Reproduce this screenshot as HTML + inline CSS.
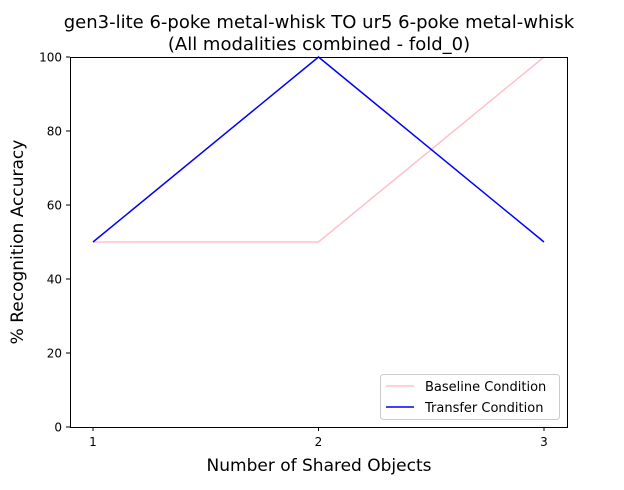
<!DOCTYPE html>
<html><head><meta charset="utf-8"><style>
body{margin:0;background:#fff;}
svg text{font-family:"DejaVu Sans","Liberation Sans",sans-serif;}
</style></head><body>
<svg id="chart" width="624" height="485" xmlns="http://www.w3.org/2000/svg">
<text x="319" y="28" font-size="18" text-anchor="middle">gen3-lite 6-poke metal-whisk TO ur5 6-poke metal-whisk</text>
<text x="319" y="50" font-size="18" text-anchor="middle">(All modalities combined - fold_0)</text>
<g id="xt"></g><g id="yt"></g><g id="lines"></g>
<rect x="70.5" y="57.5" width="497" height="370" fill="none" stroke="#000" stroke-width="1"/>
<text x="319" y="471" font-size="17" text-anchor="middle">Number of Shared Objects</text>
<text transform="translate(23,242) rotate(-90)" font-size="17" text-anchor="middle">% Recognition Accuracy</text>
<g>
<rect x="380.5" y="374.5" width="179" height="45" rx="3" fill="#fff" stroke="#ccc"/>
<line x1="386" y1="386" x2="414" y2="386" stroke="pink" stroke-width="1.5"/>
<text x="425" y="391" font-size="13">Baseline Condition</text>
<line x1="386" y1="407" x2="414" y2="407" stroke="blue" stroke-width="1.5"/>
<text x="425" y="412" font-size="13">Transfer Condition</text>
</g>
</svg>
<script>
const categories=[1,2,3];
const baseline=[50,50,100];
const transfer=[50,100,50];
const yTicks=[0,20,40,60,80,100];
const NS='http://www.w3.org/2000/svg';
const xs=v=>93+(v-1)*225.5;
const ys=v=>427-v*3.7;
function mk(t,a,p){const e=document.createElementNS(NS,t);for(const k in a)e.setAttribute(k,a[k]);p.appendChild(e);return e;}
const xt=document.getElementById('xt'),yt=document.getElementById('yt'),lg=document.getElementById('lines');
categories.forEach(c=>{
 const l=mk('line',{x1:xs(c),x2:xs(c),y1:427,y2:431,stroke:'#000'},xt);
 
 
 const t=mk('text',{x:xs(c),y:446,'font-size':12,'text-anchor':'middle'},xt);t.textContent=c;
 
 
});
yTicks.forEach(v=>{
 const l=mk('line',{x1:66,x2:70,y1:ys(v),y2:ys(v),stroke:'#000'},yt);
 
 
 const t=mk('text',{x:62,y:ys(v)+4.5,'font-size':12,'text-anchor':'end'},yt);t.textContent=v;
 
 
});
const p1=mk('polyline',{points:categories.map((c,i)=>xs(c)+','+ys(baseline[i])).join(' '),fill:'none',stroke:'pink','stroke-width':1.5},lg);


const p2=mk('polyline',{points:categories.map((c,i)=>xs(c)+','+ys(transfer[i])).join(' '),fill:'none',stroke:'blue','stroke-width':1.5},lg);


</script>
</body></html>
